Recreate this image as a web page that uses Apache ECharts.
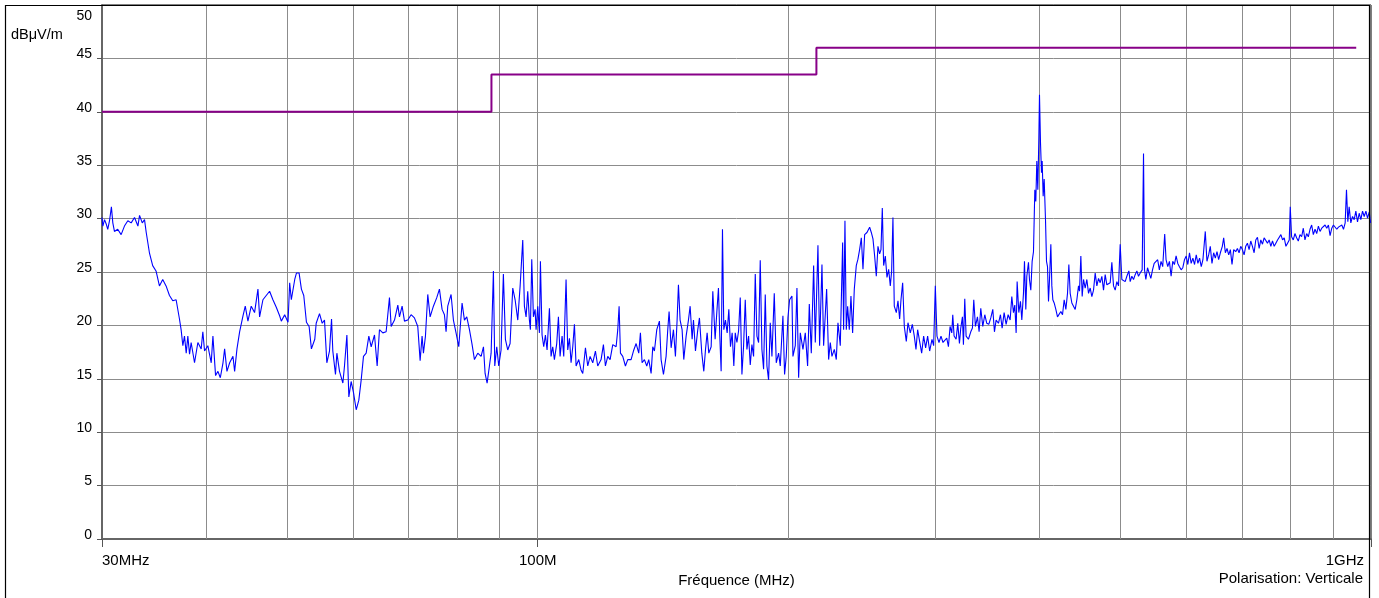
<!DOCTYPE html>
<html>
<head>
<meta charset="utf-8">
<script src="https://cdn.jsdelivr.net/npm/echarts/dist/echarts.min.js"></script>
<style>
html,body{margin:0;padding:0;background:#fff;}
#chart{width:1379px;height:598px;}
</style>
</head>
<body>
<div id="chart"></div>
<script>
// ---- data (MHz, dBµV/m) ----
const yUnit = 'dBμV/m';
const xName = 'Fréquence (MHz)';
const noteText = 'Polarisation: Verticale';
const xTickLabels = {30: '30MHz', 100: '100M', 1000: '1GHz'};
const yTicks = [0, 5, 10, 15, 20, 25, 30, 35, 40, 45, 50];
const gridFreqs = [40, 50, 60, 70, 80, 90, 100, 200, 300, 400, 500, 600, 700, 800, 900];
const limitTrace = [[30, 40], [88, 40], [88, 43.5], [216, 43.5], [216, 46], [960, 46]];
const measuredTrace = [
[30.0,30.1],[30.07,29.3],[30.21,29.9],[30.35,29.5],[30.48,29.0],[30.63,29.8],[30.79,31.1],[30.91,29.6],[31.05,28.8],[31.33,29.0],
[31.63,28.5],[31.92,29.3],[32.22,29.8],[32.52,29.6],[32.82,30.1],[33.13,29.3],[33.28,30.3],[33.53,29.6],[33.74,29.9],[33.90,28.7],
[34.20,26.8],[34.51,25.6],[34.83,25.1],[35.16,23.7],[35.48,24.3],[35.81,23.7],[36.15,22.8],[36.48,22.3],[36.82,22.4],[37.16,20.6],
[37.33,19.6],[37.51,18.1],[37.68,19.0],[37.86,17.4],[38.03,19.0],[38.21,17.3],[38.38,18.4],[38.74,16.5],[39.10,18.4],[39.46,17.8],
[39.64,19.4],[39.83,17.6],[40.19,18.1],[40.57,16.5],[40.76,19.0],[41.06,15.3],[41.33,15.7],[41.60,15.1],[41.91,16.5],[42.10,17.8],
[42.37,15.7],[42.69,16.5],[43.08,17.1],[43.28,15.7],[43.56,17.8],[43.88,19.4],[44.29,20.9],[44.57,21.8],[44.90,20.4],[45.31,21.8],
[45.73,21.2],[46.16,23.4],[46.37,20.8],[46.80,22.4],[47.23,22.8],[47.67,23.2],[48.11,22.4],[48.56,21.7],[49.01,20.9],[49.24,20.4],
[49.70,21.0],[50.16,20.3],[50.39,24.0],[50.62,22.4],[51.10,24.3],[51.34,24.9],[51.72,24.9],[52.05,23.4],[52.39,22.8],[52.78,20.3],
[53.17,19.9],[53.51,17.8],[54.01,18.7],
[54.22,20.2],[54.72,21.1],[55.13,20.2],[55.48,20.5],[55.84,16.5],[56.25,17.6],[56.57,20.6],[56.77,17.6],[57.19,15.4],[57.41,17.4],
[57.83,15.7],[58.37,14.6],[58.63,16.2],[59.02,19.1],[59.34,13.3],[59.72,14.75],[60.11,13.7],[60.56,12.1],[61.00,13.0],[61.40,14.9],
[61.79,17.1],[62.25,17.4],[62.71,19.0],[63.12,18.0],[63.70,19.1],[64.17,16.2],[64.58,19.6],[65.18,19.3],[65.78,19.4],[66.39,22.6],
[66.70,19.9],[67.32,20.5],[67.94,21.9],[68.25,20.8],[68.75,21.8],[69.20,20.4],[69.84,20.5],[70.48,21.0],[71.13,20.7],[71.79,19.9],
[72.26,16.7],[72.65,19.0],[72.92,17.4],[73.33,19.0],[73.80,22.9],[74.28,20.8],[74.96,21.8],[75.66,22.6],[76.22,23.4],[76.78,21.5],
[77.28,21.0],[77.63,19.4],[77.99,21.8],[78.71,22.9],[79.22,20.5],[79.80,19.3],[80.40,18.0],[81.14,22.1],[81.67,20.5],[82.20,20.8],
[82.81,19.6],[83.42,18.2],[83.96,16.8],[84.74,17.4],[85.52,17.1],[86.08,18.0],[86.47,15.5],[86.95,14.6],[87.51,16.2],[87.92,17.4],
[88.48,25.1],[88.81,16.2],[89.30,18.0],[89.79,16.2],[90.37,17.7],[90.95,24.8],[91.46,18.7],[92.05,17.7],[92.65,18.3],[93.34,23.5],
[93.95,22.4],[94.64,20.5],[95.26,23.7],
[95.95,28.0],[96.39,21.8],[96.84,20.8],[97.28,23.2],[97.73,20.5],[98.0,19.6],[98.37,26.2],[98.82,20.8],[99.28,21.5],[99.55,19.6],
[100.01,21.8],[100.47,19.3],[100.75,26.0],[101.21,19.1],[101.68,18.0],[102.15,19.1],[102.62,17.7],[103.29,21.6],[103.76,17.1],[104.24,18.0],
[104.72,16.8],[105.40,18.3],[105.89,20.8],[106.38,17.1],[106.97,19.0],[107.46,17.1],[108.15,24.3],[108.65,17.7],[109.16,18.8],[109.66,16.5],
[110.17,18.0],[110.68,20.1],[111.19,16.2],[112.01,16.8],[112.74,15.8],[113.26,15.5],[114.10,17.9],[114.83,16.2],[115.58,17.1],[116.43,16.5],
[117.29,17.6],[118.04,16.2],[119.14,16.8],[119.91,18.2],[120.57,16.2],[121.36,17.1],[122.14,16.8],[123.05,18.2],[124.19,18.0],[124.76,19.6],
[125.22,21.8],[125.69,17.4],[126.49,17.1],[127.43,16.2],[128.25,16.8],[129.44,16.8],[130.28,17.6],[131.25,18.3],[132.21,17.4],[132.82,19.3],
[133.43,16.5],[134.30,16.8],[135.17,16.2],[135.91,16.8],[136.80,15.5],[137.43,18.0],[138.06,17.6],[138.96,19.6],[139.98,20.4],[140.63,16.8],
[141.55,15.4],[142.58,17.1],[143.24,19.6],[143.77,21.3],[144.58,17.9],[145.51,19.6],[146.31,17.1],[146.99,20.5],[147.53,23.8],[148.21,20.5],
[149.03,19.6],[149.72,16.8],[150.70,19.0],[151.67,20.5],[152.38,21.8],[153.22,18.7],[153.79,20.5],[154.64,17.6],[155.63,19.6],[156.35,20.7],
[157.37,17.4],[158.24,15.7],[158.97,17.7],[159.70,19.3],[160.44,17.4],[161.49,18.0],[162.23,23.2],[163.27,18.7],[164.03,21.2],[164.78,23.5],
[165.39,19.0],[166.01,15.7],[166.62,29.0],[167.24,19.6],[168.01,20.5],[168.79,19.3],[169.57,21.5],[170.35,18.0],[171.14,19.3],[171.93,16.2],
[172.61,19.3],[173.41,18.4],[174.21,19.5],[175.01,22.6],[175.82,15.4],[176.63,18.1],[177.45,22.4],[178.26,17.75],[179.09,19.0],[179.91,16.3],
[180.74,18.2],[181.58,17.1],[182.42,24.8],[183.26,19.0],[184.11,18.4],[184.95,26.1],[185.81,17.75],[186.67,15.9],[187.53,22.9],[188.40,16.2],
[189.27,14.9],[190.14,20.25],[191.02,17.1],[192.26,23.0],[193.32,16.5],[194.57,17.4],[195.47,16.2],[196.91,20.9],[197.82,15.4],[198.73,17.1],
[199.65,20.7],[200.57,22.4],[201.88,22.75],[202.43,17.1],[203.75,18.1],[204.69,23.5],[205.64,15.1],[206.59,19.3],[208.12,17.75],[209.46,19.3],
[210.82,16.2],[211.80,22.0],[212.97,17.4],[214.35,25.6],[215.34,18.4],[216.92,27.5],[217.92,18.1],[219.34,25.7],[220.35,18.1],[222.19,23.4],
[223.42,16.8],[224.45,18.4],[225.48,17.1],[226.95,17.75],[228.20,16.8],[229.26,20.25],[230.73,18.1],[232.24,27.75],[232.87,19.6],[233.73,29.8],
[234.60,19.6],[235.47,21.8],[236.55,19.6],[237.64,22.75],[238.74,19.3],[239.84,23.4],[241.16,25.6],[242.27,26.2],[243.39,27.1],[244.54,28.2],
[245.67,25.25],[246.80,28.5],[248.38,28.7],[250.23,29.2],[251.38,28.7],[252.54,28.1],[253.71,26.5],[254.88,24.6],[256.05,27.4],[257.23,26.7],
[258.19,27.1],[259.14,31.0],[260.10,25.6],[261.30,26.5],[262.51,24.5],[263.72,25.25],[264.93,23.7],[265.92,25.1],[266.87,30.1],[267.86,21.8],
[269.37,21.2],[270.61,22.3],[271.86,20.6],[272.87,22.4],[274.13,24.0],[275.39,19.9],[276.91,18.5],[278.19,20.25],[279.97,19.3],[281.55,20.1],
[283.10,19.0],[284.41,17.75],[285.72,19.6],[287.29,18.5],[288.91,17.4],[290.50,19.0],[292.10,17.9],[293.72,19.0],[295.37,17.6],[297.27,18.7],
[298.64,18.1],[300.02,23.7],[301.40,19.0],[303.07,18.4],[304.77,19.0],[306.45,18.4],[307.86,18.5],
[309.66,18.8],[311.09,18.0],[312.52,19.9],[313.97,19.3],[314.84,21.0],[316.00,19.0],[317.76,18.7],[319.23,20.2],[320.70,18.3],[321.88,19.75],
[323.37,20.8],[324.26,18.2],[325.46,22.5],[326.66,19.0],[328.77,18.7],[330.90,19.4],[332.43,19.75],[333.66,22.4],[335.20,19.9],[337.06,20.8],
[338.61,19.4],[340.18,21.6],[342.07,19.9],[343.97,21.0],[345.87,20.2],[347.79,20.1],[349.72,20.7],[351.66,21.5],[353.28,19.4],[354.91,20.5],
[357.21,20.2],[359.19,21.0],[360.85,19.75],[362.85,21.2],[364.86,20.1],[366.89,21.0],[368.93,20.5],[370.63,22.7],[372.34,21.2],[373.72,21.9],
[375.10,19.3],[376.13,24.1],[377.87,21.2],[379.61,22.25],[381.02,20.5],[382.78,23.0],[383.84,26.0],[385.26,21.5],[386.32,24.6],[388.11,25.9],
[389.18,24.3],[390.62,23.3],[392.06,26.0],[393.51,26.9],[394.97,32.7],[396.06,31.6],[397.16,35.4],[398.26,32.7],[399.36,37.4],[400.10,41.6],
[401.21,37.1],[402.32,34.3],[403.07,35.4],[404.18,32.1],[405.31,33.7],[406.80,29.9],[407.93,26.0],[409.06,25.5],[410.19,22.25],[411.33,24.3],
[412.85,27.6],[413.99,23.7],[415.14,22.4],[416.67,22.1],[418.60,21.5],[420.53,20.8],[422.47,20.7],[424.42,21.3],[426.38,21.0],[428.35,22.4],
[430.33,21.5],[432.31,23.0],[433.91,25.7],[435.51,23.0],[437.53,22.1],[439.54,22.25],[441.57,21.5],[443.61,22.4],[445.66,23.7],[446.89,23.2],
[448.54,26.5],[450.20,22.7],[451.86,24.3],[453.95,23.5],[456.04,24.3],[458.15,23.0],[460.26,23.5],[462.39,22.7],[464.52,23.3],[466.67,24.9],
[468.82,23.7],[470.98,24.4],[473.16,24.0],[475.34,24.6],[477.54,23.3],[479.74,24.75],[481.96,23.8],[484.18,23.7],[486.42,24.0],[488.66,25.9],
[490.92,23.7],[493.18,23.3],[495.46,24.1],[497.75,23.7],[500.04,27.6],[502.35,24.3],[504.67,24.4],[507.00,24.1],[509.34,24.6],[512.16,25.1],
[514.05,24.1],[516.42,24.6],[518.81,24.3],[521.20,24.75],[523.61,25.1],[526.03,24.6],[528.45,24.9],[531.38,25.2],[533.34,36.1],[534.82,25.2],
[536.79,24.3],[539.27,25.4],[541.76,24.9],[544.26,24.4],[546.77,25.2],[549.29,25.8],
[552.1,25.7],[554.6,26.15],[557.2,25.2],[559.8,26.0],[562.4,25.5],[565.5,28.55],[567.6,26.15],[570.3,25.5],[572.9,26.0],[575.6,24.6],
[578.2,26.0],[580.9,25.7],[583.6,26.5],[586.3,25.8],[589.0,25.5],[591.8,25.2],[594.5,25.4],[597.3,26.15],[600.1,26.5],[602.8,25.7],
[605.6,26.8],[608.4,25.8],[611.3,26.3],[614.1,25.7],[617.0,26.6],[619.8,25.8],[622.7,26.3],[625.6,25.5],[628.5,26.15],[632.6,28.8],
[635.5,26.0],[638.5,26.6],[641.4,27.4],[644.4,25.8],[647.4,26.8],[650.4,26.3],[653.4,26.9],[656.4,26.15],[659.5,26.8],[663.1,27.4],
[665.6,28.2],[668.7,26.8],[671.8,27.2],[674.9,26.6],[678.0,27.1],[681.1,25.7],[684.3,27.1],[688.1,26.9],[691.3,27.2],[694.5,26.8],
[697.7,27.4],[700.9,27.1],[704.2,26.6],[707.4,27.4],[710.7,27.7],[714.0,27.1],[717.3,27.9],[720.6,27.4],[724.0,26.8],[727.3,28.0],
[730.7,28.25],[734.1,27.2],[737.5,28.0],[740.9,27.6],[744.3,28.2],[747.8,28.3],[751.2,27.7],[754.7,28.0],[758.2,27.4],[761.7,27.9],
[765.3,27.4],[768.8,27.7],[772.4,28.0],[776.0,27.9],[779.6,28.5],[783.2,28.0],[786.8,28.2],[790.5,27.4],[794.1,27.7],[797.8,28.0],
[800.0,31.1],[803.0,28.3],[806.7,28.0],[810.4,28.6],[814.2,28.2],[818.0,27.9],[821.8,28.5],[825.6,28.3],[829.4,29.1],[833.2,28.0],
[837.1,28.6],[841.0,28.3],[844.9,29.0],[848.8,29.4],[852.7,28.5],[856.7,29.0],[860.7,28.6],[864.7,29.3],[868.7,28.8],[872.7,29.1],
[876.7,29.0],[880.8,29.4],[884.9,29.1],[889.0,29.4],[893.1,28.4],[897.3,29.1],[901.4,29.4],[905.6,29.3],[909.8,29.0],[914.0,29.2],
[918.3,29.1],[922.5,29.4],[926.8,29.0],[931.1,29.6],[934.5,32.7],[938.0,29.7],[941.4,31.1],[945.8,29.6],[950.2,30.2],[954.6,29.9],
[959.0,30.7],[963.4,29.7],[967.9,30.5],[972.3,29.9],[976.9,30.7],[981.4,30.2],[986.0,30.7],[990.5,30.05],[995.1,30.6],[998.8,29.6]
];

// ---- chart ----
const FONT = '"Liberation Sans", Arial, sans-serif';
const chart = echarts.init(document.getElementById('chart'), null, {renderer: 'canvas'});
chart.setOption({
  animation: false,
  backgroundColor: '#fff',
  title: [
    {text: yUnit, left: 11, top: 27, padding: 0, textStyle: {fontSize: 14.5, fontWeight: 'normal', color: '#000', fontFamily: FONT}},
    {text: noteText, right: 16, top: 571, padding: 0, textStyle: {fontSize: 15, fontWeight: 'normal', color: '#000', fontFamily: FONT}}
  ],
  grid: {left: 102, right: 8, top: 5, bottom: 59, show: true, borderColor: '#000', borderWidth: 1, outerBoundsMode: 'none'},
  xAxis: {
    type: 'log', logBase: 10, min: 30, max: 1000,
    name: xName, nameLocation: 'middle', nameGap: 29,
    nameTextStyle: {fontSize: 15, color: '#000', fontFamily: FONT},
    axisLine: {show: true, lineStyle: {color: '#666', width: 2}},
    axisTick: {show: true, length: 8, lineStyle: {color: '#555', width: 1}},
    splitLine: {show: false},
    minorTick: {show: false}, minorSplitLine: {show: false},
    axisLabel: {
      show: true, margin: 14, fontSize: 15, color: '#000', fontFamily: FONT,
      alignMinLabel: 'left', alignMaxLabel: 'right',
      showMinLabel: true, showMaxLabel: true,
      formatter: function (v) {
        const k = Math.round(v);
        if (k === 1000) return '{r|' + xTickLabels[k] + '}';
        return xTickLabels[k] || '';
      },
      rich: {r: {fontSize: 15, color: '#000', fontFamily: FONT, padding: [0, 7, 0, 0]}}
    }
  },
  yAxis: [
    {
      type: 'value', min: 0, max: 50, interval: 5,
      axisLine: {show: true, lineStyle: {color: '#666', width: 2}},
      axisTick: {show: true, inside: false, length: 5, lineStyle: {color: '#555'}},
      splitLine: {show: true, lineStyle: {color: '#8c8c8c', width: 1}},
      axisLabel: {
        margin: 10, fontSize: 14, color: '#000', fontFamily: FONT, verticalAlign: 'bottom', lineHeight: 8,
        formatter: function (v) { return (v === 50 || yTicks.indexOf(v) < 0) ? '' : String(v); }
      }
    },
    {
      type: 'value', min: 0, max: 50, interval: 5, position: 'left',
      axisLine: {show: false}, axisTick: {show: false}, splitLine: {show: false},
      axisLabel: {
        margin: 10, fontSize: 14, color: '#000', fontFamily: FONT, verticalAlign: 'top', lineHeight: 16, padding: [3, 0, 0, 0],
        formatter: function (v) { return v === 50 ? '50' : ''; }
      }
    }
  ],
  graphic: [
    {type: 'rect', silent: true, z: 100, shape: {x: 5.5, y: 5.5, width: 1364, height: 620},
     style: {fill: 'none', stroke: '#000', lineWidth: 1.2}}
  ],
  series: [
    {
      name: 'grid', type: 'line', data: [], z: 1, silent: true,
      markLine: {
        silent: true, symbol: ['none', 'none'], animation: false, z: 1,
        label: {show: false},
        lineStyle: {color: '#8c8c8c', width: 1, type: 'solid'},
        emphasis: {disabled: true},
        data: gridFreqs.map(function (f) { return {xAxis: f}; })
      }
    },
    {
      name: 'measure', type: 'line', data: measuredTrace, z: 3,
      showSymbol: false, symbol: 'none', smooth: false,
      lineStyle: {color: '#0000ff', width: 1.1},
      emphasis: {disabled: true}
    },
    {
      name: 'limit', type: 'line', data: limitTrace, z: 4,
      showSymbol: false, symbol: 'none',
      lineStyle: {color: '#880088', width: 2},
      emphasis: {disabled: true}
    }
  ]
});
</script>
</body>
</html>
